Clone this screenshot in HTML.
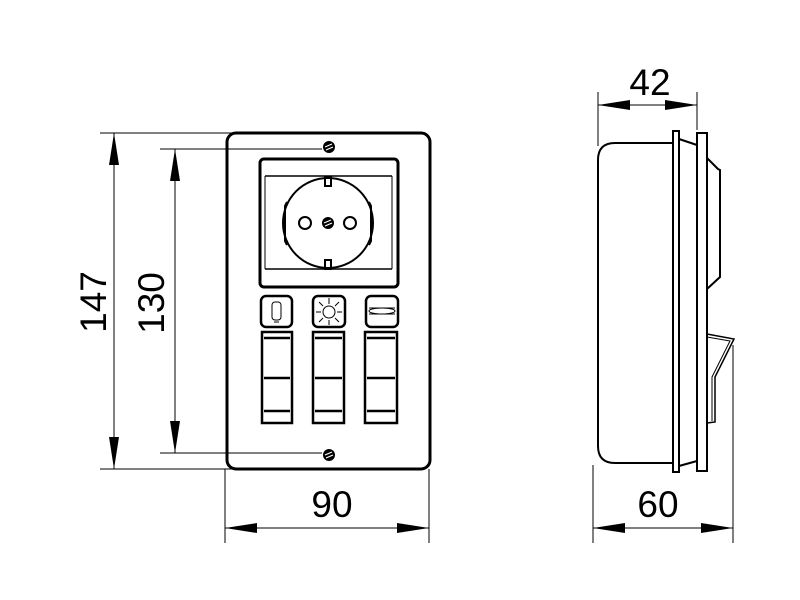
<!DOCTYPE html>
<html><head><meta charset="utf-8"><style>html,body{margin:0;padding:0;background:#fff}svg{display:block}</style></head>
<body>
<svg width="800" height="600" viewBox="0 0 800 600" xmlns="http://www.w3.org/2000/svg" font-family="Liberation Sans, sans-serif">
<defs>
<marker id="a" viewBox="0 0 32 10" refX="32" refY="5" markerWidth="32" markerHeight="10" markerUnits="userSpaceOnUse" orient="auto-start-reverse"><path d="M0,0 L32,5 L0,10 Z" fill="#000"/></marker>
<clipPath id="c"><rect x="265" y="176" width="127" height="93"/></clipPath>
</defs>
<g stroke="#000" stroke-width="1" fill="none">
<line x1="100" y1="133" x2="232" y2="133"/>
<line x1="100" y1="469" x2="232" y2="469"/>
<line x1="160" y1="149" x2="322" y2="149"/>
<line x1="160" y1="453" x2="322" y2="453"/>
<line x1="225" y1="469" x2="225" y2="543"/>
<line x1="429" y1="469" x2="429" y2="543"/>
<line x1="598" y1="92" x2="598" y2="146"/>
<line x1="697" y1="92" x2="697" y2="130"/>
<line x1="593" y1="465" x2="593" y2="543"/>
<line x1="733" y1="345" x2="733" y2="543"/>
<line x1="114" y1="133" x2="114" y2="469" marker-start="url(#a)" marker-end="url(#a)"/>
<line x1="175" y1="149" x2="175" y2="453" marker-start="url(#a)" marker-end="url(#a)"/>
<line x1="225" y1="528" x2="429" y2="528" marker-start="url(#a)" marker-end="url(#a)"/>
<line x1="593" y1="528" x2="733" y2="528" marker-start="url(#a)" marker-end="url(#a)"/>
<line x1="598" y1="105" x2="697" y2="105" marker-start="url(#a)" marker-end="url(#a)"/>
</g>
<g fill="#000" font-size="37" text-anchor="middle">
<text x="332" y="517">90</text>
<text x="658" y="517">60</text>
<text x="650" y="95">42</text>
<text transform="translate(106,302) rotate(-90)">147</text>
<text transform="translate(164,303) rotate(-90)">130</text>
</g>
<g stroke="#000" fill="none">
<rect x="227" y="133" width="203" height="336" rx="9" stroke-width="3"/>
<rect x="260" y="159" width="138" height="128" rx="4" stroke-width="3"/>
<line x1="265" y1="176" x2="392" y2="176" stroke-width="1.5"/>
<line x1="265" y1="269" x2="392" y2="269" stroke-width="1.5"/>
<line x1="265" y1="176" x2="265" y2="269" stroke-width="1"/>
<line x1="392" y1="176" x2="392" y2="269" stroke-width="1"/>
<circle cx="328" cy="223" r="45" stroke-width="2" clip-path="url(#c)"/>
<path d="M287,202 L285,206 L285,241 L287,245 M369,202 L371,206 L371,241 L369,245" stroke-width="2"/>
<circle cx="305" cy="223" r="6" stroke-width="2"/>
<circle cx="350" cy="223" r="6" stroke-width="2"/>
</g>
<g fill="#000">
<rect x="324" y="176" width="8" height="11"/><rect x="324" y="259" width="8" height="11"/>
<rect x="326" y="179" width="4" height="6" fill="#fff"/><rect x="326" y="261" width="4" height="6" fill="#fff"/>
<circle cx="329" cy="147" r="6"/><circle cx="329" cy="455" r="6"/><circle cx="328" cy="223" r="6"/>
</g>
<g stroke="#fff" stroke-width="1.2">
<line x1="325" y1="147" x2="332" y2="144"/><line x1="326" y1="150" x2="333" y2="147"/>
<line x1="325" y1="455" x2="332" y2="452"/><line x1="326" y1="458" x2="333" y2="455"/>
<line x1="324" y1="223" x2="331" y2="220"/><line x1="325" y1="226" x2="332" y2="223"/>
</g>
<g stroke="#000" fill="none" stroke-width="2.5">
<rect x="261" y="296" width="31" height="31" rx="5"/>
<rect x="313" y="296" width="32" height="31" rx="5"/>
<rect x="366" y="296" width="32" height="31" rx="5"/>
<rect x="262" y="332" width="30" height="91"/>
<rect x="313" y="332" width="31" height="91"/>
<rect x="365" y="332" width="32" height="91"/>
</g>
<g stroke="#000" stroke-width="2.5">
<line x1="264" y1="338" x2="290" y2="338"/><line x1="264" y1="378" x2="290" y2="378"/><line x1="264" y1="411" x2="290" y2="411"/>
<line x1="315" y1="338" x2="342" y2="338"/><line x1="315" y1="378" x2="342" y2="378"/><line x1="315" y1="411" x2="342" y2="411"/>
<line x1="367" y1="338" x2="395" y2="338"/><line x1="367" y1="378" x2="395" y2="378"/><line x1="367" y1="411" x2="395" y2="411"/>
</g>
<g stroke="#000" fill="none" stroke-width="1">
<rect x="272" y="302" width="9" height="18" rx="3"/>
<line x1="274" y1="322" x2="279" y2="322"/>
<circle cx="329" cy="312" r="6"/>
<line x1="329" y1="298" x2="329" y2="304"/><line x1="316" y1="312" x2="321" y2="312"/><line x1="337" y1="312" x2="342" y2="312"/>
<line x1="319" y1="302" x2="323" y2="306"/><line x1="339" y1="302" x2="335" y2="306"/>
<line x1="319" y1="322" x2="323" y2="318"/><line x1="339" y1="322" x2="335" y2="318"/>
<line x1="329" y1="320" x2="329" y2="325"/>
<ellipse cx="382" cy="311" rx="13" ry="3"/><line x1="369" y1="308" x2="395" y2="308"/><line x1="369" y1="314" x2="395" y2="314"/>
</g>
<g stroke="#000" fill="none" stroke-width="2">
<path d="M673,143 L615,143 Q598,143 598,160 L598,446 Q598,463 615,463 L673,463"/>
<rect x="673" y="131" width="6" height="341"/>
<path d="M679,139 L697,145 M679,466 L697,461"/>
<rect x="697" y="133" width="10" height="338"/>
<path d="M707,158 L718,169 L720,170 L720,277 L707,289"/>
<path d="M707,334 L734,339 L715,377 L715,422 L707,423" stroke-width="1.5"/>
<path d="M707,337 L730,341 L712,377 L712,421" stroke-width="1"/>
</g>
</svg>
</body></html>
